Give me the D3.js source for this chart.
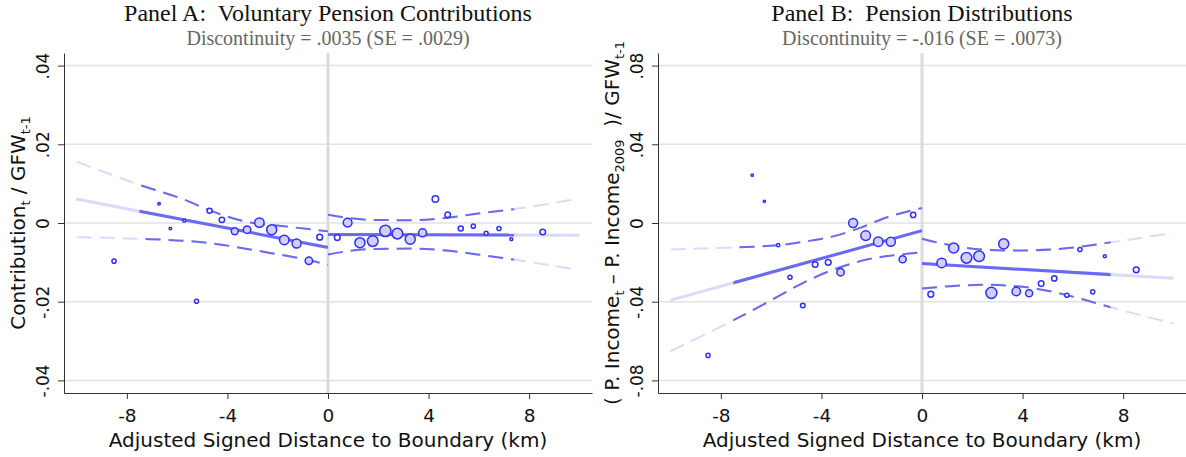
<!DOCTYPE html>
<html lang="en">
<head>
<meta charset="UTF-8">
<title>Pension discontinuity plots</title>
<script src="https://d3js.org/d3.v7.min.js"></script>
<style>
  body { margin: 0; background: #fff; }
  svg { display: block; background: #fff; }
  text { white-space: pre; }
  .title { font-family: "Liberation Serif", "Times New Roman", serif; font-size: 24px; fill: #111; }
  .subtitle { font-family: "Liberation Serif", "Times New Roman", serif; font-size: 20px; fill: #666; }
  .axis text { font-family: "DejaVu Sans", sans-serif; fill: #111; }
  .axis-title { font-family: "DejaVu Sans", sans-serif; font-size: 20px; fill: #111; }
</style>
</head>
<body>
<svg width="1186" height="457"></svg>
<script>
// ---- data ----
const distTicks = [-8, -4, 0, 4, 8];

// Panel A: voluntary contributions
const aTicks = [-.04, -.02, 0, .02, .04];
const aBinX = [-8.51, -6.72, -6.27, -5.72, -5.23, -4.71, -4.22, -3.71, -3.22, -2.73, -2.24, -1.74, -1.25, -0.76, -0.33,
               0.37, 0.78, 1.27, 1.78, 2.28, 2.76, 3.27, 3.76, 4.27, 4.76, 5.28, 5.78, 6.29, 6.80, 7.29, 8.54];
const aBinY = [-.0097, .0049, -.0014, .0006, -.0199, .0031, .0008, -.0021, -.0017, .0001, -.0017, -.0043, -.0052, -.0096, -.0036,
               -.0037, .0001, -.0050, -.0046, -.0020, -.0027, -.0041, -.0025, .0061, .0021, -.0014, -.0008, -.0026, -.0014, -.0041, -.0023];
const aBinN = [40, 15, 15, 20, 40, 60, 70, 110, 130, 210, 240, 210, 190, 130, 80,
               80, 180, 240, 270, 300, 270, 240, 150, 100, 75, 60, 40, 35, 40, 20, 75];
const aFitLeft = [[-10, .0061], [-7.5, .0030], [0, -.0062]];
const aFitRight = [[0, -.0029], [10, -.0031]];
const aUpperLeft = [[-10, .0156], [-7.5, .0097], [-5.7, .0059], [-4.7, .0032], [-3.3, .0004], [-1.65, -.0009], [0, -.0021]];
const aLowerLeft = [[-10, -.0036], [-7.5, -.0040], [-5, -.0049], [-2.3, -.0076], [-1, -.0091], [0, -.0106]];
const aUpperRight = [[0, .0021], [1.7, .0008], [3.3, .0007], [4.7, .0013], [6.3, .0027], [7.4, .0035], [10, .0063]];
const aLowerRight = [[0, -.0080], [1.7, -.0066], [3.3, -.0065], [4.7, -.0070], [6.3, -.0083], [7.4, -.0093], [10, -.0120]];

// Panel B: pension distributions
const bTicks = [-.08, -.04, 0, .04, .08];
const bBinX = [-8.51, -6.75, -6.27, -5.72, -5.25, -4.74, -4.25, -3.73, -3.24, -2.74, -2.24, -1.74, -1.24, -0.77, -0.35,
               0.35, 0.78, 1.26, 1.77, 2.27, 2.76, 3.25, 3.75, 4.26, 4.74, 5.26, 5.76, 6.28, 6.79, 7.27, 8.52];
const bBinY = [-.0673, .0243, .0110, -.0113, -.0276, -.0419, -.0211, -.0200, -.0250, .0000, -.0064, -.0095, -.0095, -.0184, .0041,
               -.0362, -.0203, -.0127, -.0177, -.0169, -.0355, -.0106, -.0348, -.0357, -.0308, -.0282, -.0367, -.0135, -.0350, -.0169, -.0238];
const bBinN = [40, 12, 12, 25, 40, 50, 75, 80, 130, 190, 220, 210, 190, 120, 65,
               80, 210, 240, 270, 270, 290, 240, 170, 120, 75, 65, 40, 40, 40, 22, 80];
const bFitLeft = [[-10, -.0392], [0, -.0039]];
const bFitRight = [[0, -.0206], [10, -.0281]];
const bUpperLeft = [[-10, -.0135], [-7.5, -.0124], [-5.66, -.0112], [-4.59, -.0093], [-3.53, -.0068], [-2.47, -.0025], [-1.41, .0028], [0, .0076]];
const bLowerLeft = [[-10, -.0651], [-7.5, -.0494], [-6.19, -.0406], [-4.86, -.0313], [-3.53, -.0237], [-2.2, -.0186], [-0.88, -.0161], [0, -.0149]];
const bUpperRight = [[0, -.0080], [1.12, -.0113], [2.44, -.0135], [3.77, -.0140], [5.1, -.0135], [6.43, -.0118], [7.36, -.0101], [10, -.0051]];
const bLowerRight = [[0, -.0333], [1.12, -.0321], [2.44, -.0314], [3.77, -.0321], [5.1, -.0347], [6.43, -.0389], [7.36, -.0423], [10, -.0511]];

const panels = [
  {
    id: "a", left: 64, yMax: .0432, ticks: aTicks, solid: [-7.5, 7.4],
    title: "Panel A:  Voluntary Pension Contributions",
    sub: "Discontinuity = .0035 (SE = .0029)",
    ytitle: [["Contribution", 0], ["t", 1], [" / GFW", 0], ["t-1", 1]],
    bx: aBinX, by: aBinY, bn: aBinN,
    fits: [aFitLeft, aFitRight], bands: [aUpperLeft, aLowerLeft, aUpperRight, aLowerRight]
  },
  {
    id: "b", left: 658, yMax: .0864, ticks: bTicks, solid: [-7.5, 7.5],
    title: "Panel B:  Pension Distributions",
    sub: "Discontinuity = -.016 (SE = .0073)",
    ytitle: [["( P. Income", 0], ["t", 1], [" \u2013 P. Income", 0], ["2009", 1], ["  )/ GFW", 0], ["t-1", 1]],
    bx: bBinX, by: bBinY, bn: bBinN,
    fits: [bFitLeft, bFitRight], bands: [bUpperLeft, bLowerLeft, bUpperRight, bLowerRight]
  }
];

const svg = d3.select("svg");
const plotW = 528, plotTop = 53, plotBottom = 393;
const darkBlue = "#6a6af0", lightBlue = "#dadafa";

// Stata style labels: ".04", "-.04", "0" with a plain hyphen
const fmtY = d => d === 0 ? "0" : d3.format(".2f")(d).replace("0.", ".").replace("\u2212", "-");
const fmtX = d => String(d);
const rScale = d3.scaleSqrt().domain([0, 400]).range([0, 6.5]);

panels.forEach(p => {
  const x = d3.scaleLinear().domain([-10.5, 10.5]).range([p.left, p.left + plotW]);
  const y = d3.scaleLinear().domain([-p.yMax, p.yMax]).range([plotBottom, plotTop]);
  const cx = p.left + plotW / 2;
  const g = svg.append("g");

  // titles
  g.append("text").attr("class", "title").attr("x", cx).attr("y", 21)
    .attr("text-anchor", "middle").text(p.title);
  g.append("text").attr("class", "subtitle").attr("x", cx).attr("y", 45)
    .attr("text-anchor", "middle").text(p.sub);

  // grid
  g.append("g").selectAll("line").data(p.ticks).join("line")
    .attr("x1", p.left).attr("x2", p.left + plotW)
    .attr("y1", d => y(d)).attr("y2", d => y(d))
    .attr("stroke", "#e2e2e2").attr("stroke-width", 1.5);
  g.append("line")
    .attr("x1", x(0)).attr("x2", x(0)).attr("y1", plotTop).attr("y2", plotBottom)
    .attr("stroke", "#dcdcdc").attr("stroke-width", 3);

  // clip for the dark (in-support) part of the lines
  const clipId = "clip-" + p.id;
  svg.append("clipPath").attr("id", clipId).append("rect")
    .attr("x", x(p.solid[0])).attr("width", x(p.solid[1]) - x(p.solid[0]))
    .attr("y", 0).attr("height", 457);

  const line = d3.line().x(d => x(d[0])).y(d => y(d[1])).curve(d3.curveMonotoneX);

  [lightBlue, darkBlue].forEach((col, i) => {
    const lg = g.append("g");
    if (i === 1) lg.attr("clip-path", `url(#${clipId})`);
    lg.selectAll("path.band").data(p.bands).join("path")
      .attr("class", "band")
      .attr("d", line).attr("fill", "none")
      .attr("stroke", col).attr("stroke-width", 2)
      .attr("stroke-dasharray", "15,8");
    lg.selectAll("path.fit").data(p.fits).join("path")
      .attr("class", "fit")
      .attr("d", line).attr("fill", "none")
      .attr("stroke", col).attr("stroke-width", 3);
  });

  // binned means
  const bins = p.bx.map((v, i) => ({ x: v, y: p.by[i], n: p.bn[i] }));
  g.append("g").selectAll("circle").data(bins).join("circle")
    .attr("cx", d => x(d.x)).attr("cy", d => y(d.y))
    .attr("r", d => rScale(d.n))
    .attr("fill", d => rScale(d.n) >= 3.3 ? "#d0d0f6" : "#fff")
    .attr("stroke", "#2e2eff").attr("stroke-width", 1.5);

  // axes
  const yAxis = g.append("g").attr("class", "axis")
    .attr("transform", `translate(${p.left},0)`)
    .call(d3.axisLeft(y).tickValues(p.ticks).tickFormat(fmtY).tickSize(6).tickSizeOuter(0));
  yAxis.selectAll("text")
    .attr("transform", "rotate(-90)")
    .attr("x", 0).attr("y", -15).attr("dy", 0)
    .attr("text-anchor", "middle").attr("font-size", 17);

  const xAxis = g.append("g").attr("class", "axis")
    .attr("transform", `translate(0,${plotBottom})`)
    .call(d3.axisBottom(x).tickValues(distTicks).tickFormat(fmtX).tickSize(6).tickSizeOuter(0));
  xAxis.selectAll("text").attr("y", 29).attr("dy", 0).attr("font-size", 18.5);
  g.selectAll(".axis path, .axis line").attr("stroke", "#333");

  // axis titles
  g.append("text").attr("class", "axis-title")
    .attr("x", cx).attr("y", 447).attr("text-anchor", "middle")
    .text("Adjusted Signed Distance to Boundary (km)");

  const yt = g.append("text").attr("class", "axis-title")
    .attr("transform", `translate(${p.left - 39},${(plotTop + plotBottom) / 2}) rotate(-90)`)
    .attr("text-anchor", "middle");
  let shifted = false;
  p.ytitle.forEach(([s, isSub]) => {
    const t = yt.append("tspan").text(s);
    if (isSub && !shifted) { t.attr("dy", 5).attr("font-size", 13); shifted = true; }
    else if (isSub) t.attr("font-size", 13);
    else if (shifted) { t.attr("dy", -5); shifted = false; }
  });
});
</script>
</body>
</html>
